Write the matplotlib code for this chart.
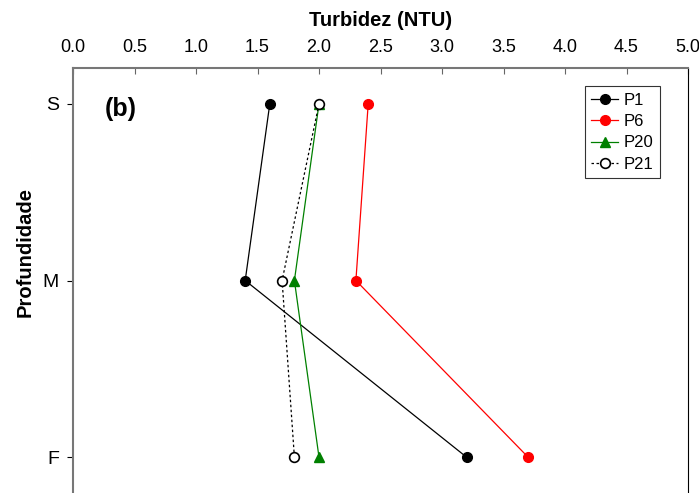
import matplotlib
matplotlib.use("Agg")
import matplotlib.pyplot as plt

plt.rcParams['font.family'] = ['Liberation Sans', 'DejaVu Sans']

depths = ["S", "M", "F"]
depth_pos = [0, 1, 2]
p1 = [1.6, 1.4, 3.2]
p6 = [2.4, 2.3, 3.7]
p20 = [2.0, 1.8, 2.0]
p21 = [2.0, 1.7, 1.8]
xticks = [0.0, 0.5, 1.0, 1.5, 2.0, 2.5, 3.0, 3.5, 4.0, 4.5, 5.0]

fig = plt.figure(figsize=(6.99, 4.93), dpi=100)
# axes left at 73px, right at 688px, top at 68px; bottom runs past the image edge
ax = fig.add_axes([73 / 699, -5 / 493, 615 / 699, (493 - 68 + 5) / 493])

ax.plot(p1, depth_pos, color='black', lw=0.9, marker='o', ms=7, label='P1')
ax.plot(p6, depth_pos, color='red', lw=0.9, marker='o', ms=7, label='P6')
ax.plot(p20, depth_pos, color='green', lw=0.9, marker='^', ms=7, label='P20')
ax.plot(p21, depth_pos, color='black', lw=0.9, ls=(0, (2, 2)), marker='o', ms=7,
        mfc='white', mec='black', mew=1.2, label='P21')

ax.set_xlim(0, 5.0)
ax.set_ylim(2 + 41 / 177.5, -36 / 177.5)
ax.set_xticks(xticks)
ax.set_xticklabels([f"{v:.1f}" for v in xticks])
ax.set_yticks(depth_pos)
ax.set_yticklabels(depths)

ax.xaxis.tick_top()
ax.xaxis.set_label_position('top')
ax.tick_params(axis='x', direction='in', length=4, labelsize=13, pad=9, color='#666666')
ax.tick_params(axis='y', direction='out', length=4, labelsize=14, pad=6)
ax.set_xlabel('Turbidez (NTU)', fontsize=14.5, fontweight='bold', labelpad=9)
ax.set_ylabel('Profundidade', fontsize=14.5, fontweight='bold')
ax.yaxis.set_label_coords(-0.063, 0.572)

ax.spines['left'].set_color('#777777')
ax.spines['top'].set_color('#777777')
ax.spines['left'].set_linewidth(1.5)
ax.spines['top'].set_linewidth(1.5)
ax.spines['right'].set_color('black')
ax.spines['bottom'].set_visible(False)

ax.text(0.26, 0.03, '(b)', fontsize=18, fontweight='bold', va='center', ha='left')

leg = ax.legend(loc='upper right', bbox_to_anchor=(0.955, 0.958), fontsize=12,
                frameon=True, fancybox=False, edgecolor='black', handlelength=1.6,
                handletextpad=0.35, borderpad=0.4, labelspacing=0.38, borderaxespad=0)
leg.get_frame().set_linewidth(0.8)

fig.savefig('out.png', dpi=100)
